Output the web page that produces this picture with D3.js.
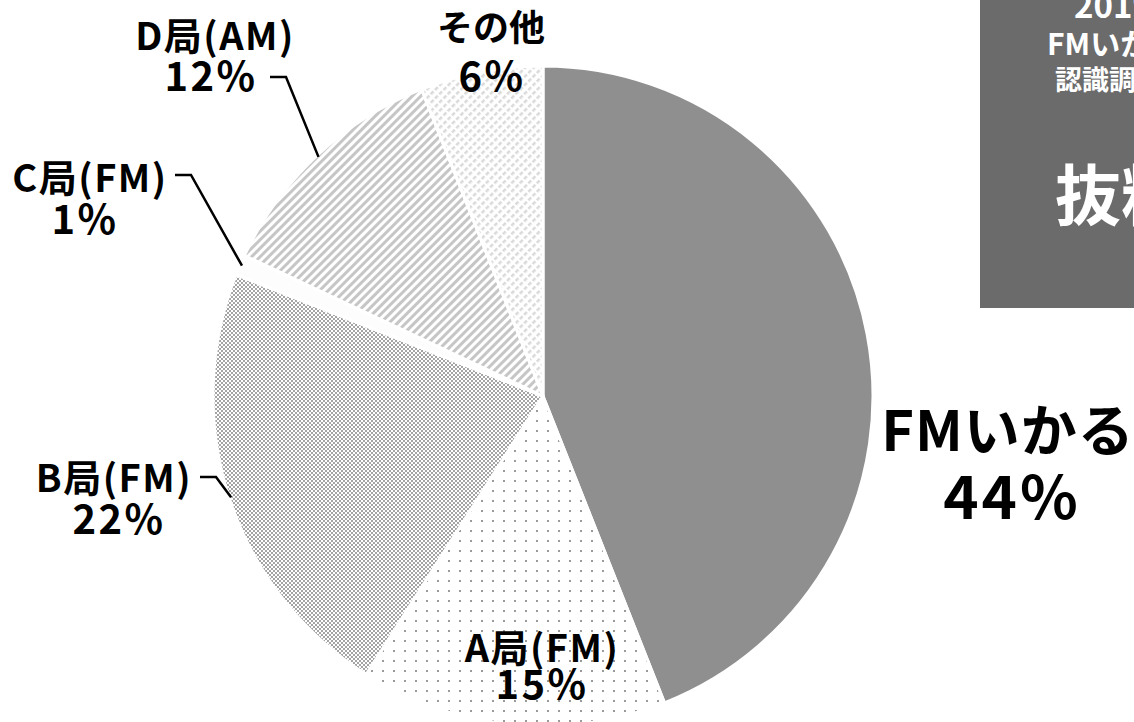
<!DOCTYPE html>
<html><head><meta charset="utf-8">
<script src="https://cdn.jsdelivr.net/npm/d3@7"></script>
<style>
html,body{margin:0;padding:0;background:#fff;overflow:hidden;}
svg{display:block;}
text{font-family:"Noto Sans CJK JP","Noto Sans",sans-serif;}
</style></head>
<body>
<svg id="c" width="1134" height="722"></svg>
<script>
// data
const categories = ["FMいかる", "A局(FM)", "B局(FM)", "C局(FM)", "D局(AM)", "その他"];
const values = [44, 15, 22, 1, 12, 6];
const patternIds = ["solid", "dots", "checker", "blank", "stripes", "dashstripes"];
const boxLines = ["2019年", "FMいかる", "認識調査", "抜粋"];

// layout (not data)
const cx = 543, cy = 396, R = 330;
const labelPos = {
  "FMいかる": {x: 1008, y: 451, size: 56, px: 1012, pct: 519, psize: 60, ls: 1, pls: 3, line: null},
  "A局(FM)": {x: 542, y: 662, size: 38, px: 542, pct: 699, psize: 40, ls: 1.5, pls: 2.5, line: null},
  "B局(FM)": {x: 114, y: 492, size: 38, px: 119, pct: 534, psize: 40, ls: 1.5, pls: 2.5, line: {x0: 200, y0: 477, x1: 216, y1: 477}},
  "C局(FM)": {x: 90, y: 192, size: 38, px: 85, pct: 234, psize: 40, ls: 1.5, pls: 2.5, line: {x0: 175, y0: 175, x1: 191, y1: 175}},
  "D局(AM)": {x: 215, y: 50, size: 38, px: 211, pct: 91, psize: 40, ls: 1.5, pls: 2.5, line: {x0: 270, y0: 77, x1: 286, y1: 77}},
  "その他": {x: 491, y: 41, size: 36, px: 492, pct: 91, psize: 40, ls: 0, pls: 2.5, line: null}
};

const svg = d3.select("#c");
const defs = svg.append("defs");

// patterns
let p = defs.append("pattern").attr("id","dots").attr("patternUnits","userSpaceOnUse").attr("width",11).attr("height",10);
p.append("rect").attr("width",11).attr("height",10).attr("fill","#fff");
p.append("rect").attr("x",4).attr("y",4).attr("width",2).attr("height",2).attr("fill","#9a9a9a");

p = defs.append("pattern").attr("id","checker").attr("patternUnits","userSpaceOnUse").attr("width",4).attr("height",4);
p.append("rect").attr("width",4).attr("height",4).attr("fill","#fff");
p.append("rect").attr("width",2).attr("height",2).attr("fill","#a4a4a4");
p.append("rect").attr("x",2).attr("y",2).attr("width",2).attr("height",2).attr("fill","#a4a4a4");

p = defs.append("pattern").attr("id","stripes").attr("patternUnits","userSpaceOnUse").attr("width",6).attr("height",6).attr("patternTransform","rotate(45)");
p.append("rect").attr("width",6).attr("height",6).attr("fill","#fff");
p.append("rect").attr("width",3).attr("height",6).attr("fill","#c6c6c6");

p = defs.append("pattern").attr("id","dashstripes").attr("patternUnits","userSpaceOnUse").attr("width",6).attr("height",6).attr("patternTransform","rotate(45)");
p.append("rect").attr("width",6).attr("height",6).attr("fill","#fff");
p.append("rect").attr("width",2.5).attr("height",4).attr("fill","#dadada");

const fillFor = id => id === "solid" ? "#8f8f8f" : id === "blank" ? "#fdfdfd" : `url(#${id})`;

const table = categories.map((c, i) => ({cat: c, value: values[i], pat: patternIds[i]}));
const pie = d3.pie().value(d => d.value).sort(null);
const arc = d3.arc().innerRadius(0).outerRadius(R);
const arcs = pie(table);

const g = svg.append("g").attr("transform", `translate(${cx},${cy})`);
g.selectAll("path").data(arcs).join("path")
  .attr("d", arc)
  .attr("fill", d => fillFor(d.data.pat))
  .attr("stroke", "#fff")
  .attr("stroke-width", 3)
  .attr("stroke-linejoin", "round");

// leader lines
const edgeArc = d3.arc().innerRadius(R - 2).outerRadius(R - 2);
arcs.forEach(a => {
  const lp = labelPos[a.data.cat];
  if (!lp.line) return;
  const [ex, ey] = edgeArc.centroid(a);
  svg.append("polyline")
    .attr("points", `${lp.line.x0},${lp.line.y0} ${lp.line.x1},${lp.line.y1} ${cx + ex},${cy + ey}`)
    .attr("fill", "none").attr("stroke", "#000").attr("stroke-width", 2.5);
});

// labels
arcs.forEach(a => {
  const lp = labelPos[a.data.cat];
  svg.append("text").attr("x", lp.x).attr("y", lp.y).attr("text-anchor","middle")
    .attr("font-size", lp.size).attr("font-weight","bold").attr("letter-spacing", lp.ls)
    .attr("fill","#000").text(a.data.cat);
  svg.append("text").attr("x", lp.px).attr("y", lp.pct).attr("text-anchor","middle")
    .attr("font-size", lp.psize).attr("font-weight","bold").attr("letter-spacing", lp.pls)
    .attr("fill","#000").text(a.data.value + "%");
});

// top-right box
svg.append("rect").attr("x", 980).attr("y", -5).attr("width", 200).attr("height", 313).attr("fill", "#6b6b6b");
const boxCfg = [
  {x: 1074, y: 18, size: 33},
  {x: 1047, y: 55, size: 30},
  {x: 1055, y: 90, size: 27},
  {x: 1055, y: 220, size: 66}
];
boxLines.forEach((t, i) => {
  svg.append("text").attr("x", boxCfg[i].x).attr("y", boxCfg[i].y)
    .attr("font-size", boxCfg[i].size).attr("font-weight", "bold")
    .attr("fill", "#fff").text(t);
});
</script>
</body></html>
